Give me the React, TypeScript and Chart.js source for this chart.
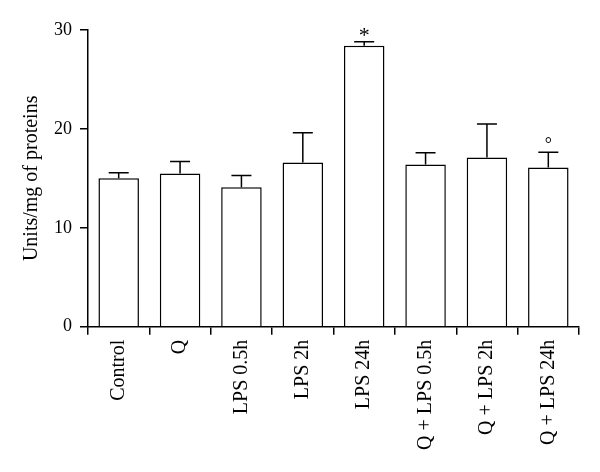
import React, { useEffect, useRef } from "react";
import { Chart, registerables } from "chart.js";

Chart.register(...registerables);

const categories = [
  "Control",
  "Q",
  "LPS 0.5h",
  "LPS 2h",
  "LPS 24h",
  "Q + LPS 0.5h",
  "Q + LPS 2h",
  "Q + LPS 24h",
];
const means = [15.0, 15.5, 14.1, 16.6, 28.4, 16.4, 17.1, 16.1];
const errors = [0.57, 1.2, 1.18, 3.0, 0.4, 1.18, 3.4, 1.54];
const marks = ["", "", "", "", "*", "", "", "°"];
const yTicks = [0, 10, 20, 30];

const FONT = "'Liberation Serif', 'Times New Roman', serif";

const errorBarPlugin = {
  id: "errorBars",
  afterDatasetsDraw(chart: any) {
    const ctx = chart.ctx;
    const meta = chart.getDatasetMeta(0);
    const yScale = chart.scales.y;
    ctx.save();
    ctx.strokeStyle = "#000";
    ctx.lineWidth = 1.5;
    meta.data.forEach((bar: any, i: number) => {
      const top = yScale.getPixelForValue(means[i] + errors[i]);
      ctx.beginPath();
      ctx.moveTo(bar.x, bar.y);
      ctx.lineTo(bar.x, top);
      ctx.moveTo(bar.x - 10, top);
      ctx.lineTo(bar.x + 10, top);
      ctx.stroke();
      if (marks[i]) {
        ctx.fillStyle = "#000";
        ctx.textAlign = "center";
        ctx.textBaseline = "alphabetic";
        ctx.font = marks[i] === "*" ? `22px ${FONT}` : `18px ${FONT}`;
        ctx.fillText(marks[i], bar.x, top - (marks[i] === "*" ? 0 : 2.5));
      }
    });
    ctx.restore();
  },
};

export default function App() {
  const ref = useRef<HTMLCanvasElement>(null);

  useEffect(() => {
    if (!ref.current) return;
    const chart = new Chart(ref.current, {
      type: "bar",
      data: {
        labels: categories,
        datasets: [
          {
            data: means,
            backgroundColor: "#ffffff",
            borderColor: "#000000",
            borderWidth: 1.5,
            barPercentage: 0.66,
            categoryPercentage: 1,
          },
        ],
      },
      options: {
        responsive: false,
        animation: false,
        devicePixelRatio: 1,
        layout: { padding: { top: 30, right: 21, left: 0, bottom: 0 } },
        plugins: {
          legend: { display: false },
          tooltip: { enabled: false },
        },
        scales: {
          x: {
            afterFit: (scale: any) => {
              scale.height = 472 - 326.7;
            },
            grid: {
              display: true,
              drawOnChartArea: false,
              drawTicks: true,
              tickLength: 8,
              color: "#000",
              lineWidth: 1.5,
            },
            border: { display: true, color: "#000", width: 1.5 },
            ticks: {
              color: "#000",
              font: { family: FONT, size: 20 },
              minRotation: 90,
              maxRotation: 90,
              padding: 5,
              autoSkip: false,
            },
          },
          y: {
            min: 0,
            max: 30,
            afterFit: (scale: any) => {
              scale.width = 88;
            },
            afterBuildTicks: (scale: any) => {
              scale.ticks = yTicks.map((v) => ({ value: v }));
            },
            grid: {
              display: true,
              drawOnChartArea: false,
              drawTicks: true,
              tickLength: 8,
              color: "#000",
              lineWidth: 1.5,
            },
            border: { display: true, color: "#000", width: 1.5 },
            ticks: {
              color: "#000",
              font: { family: FONT, size: 18 },
              padding: 8,
            },
            title: {
              display: true,
              text: "Units/mg of proteins",
              color: "#000",
              font: { family: FONT, size: 20 },
              padding: { top: 20, bottom: 0 },
            },
          },
        },
      },
      plugins: [errorBarPlugin],
    });
    return () => chart.destroy();
  }, []);

  return (
    <div style={{ position: "absolute", left: 0, top: 0, width: 600, height: 472, background: "#fff" }}>
      <canvas ref={ref} width={600} height={472} style={{ display: "block" }} />
    </div>
  );
}
